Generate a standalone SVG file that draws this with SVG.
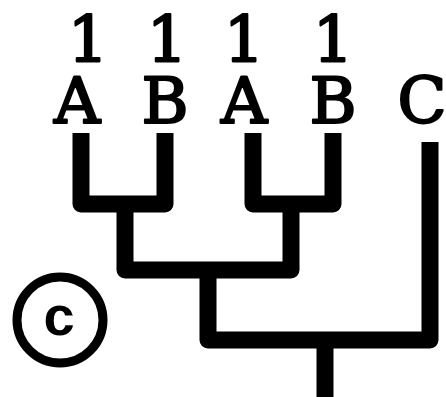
<svg xmlns="http://www.w3.org/2000/svg" width="446" height="397" viewBox="0 0 446 397">
  <style>
    .lbl { font-family: "DejaVu Serif", "Liberation Serif", serif; font-size: 64px; fill: #000; stroke: #000; stroke-width: 2.2; stroke-linejoin: round; text-anchor: middle; }
    .branch { fill: none; stroke: #000; stroke-width: 17; stroke-linejoin: round; stroke-linecap: butt; }
    .badge { fill: none; stroke: #000; stroke-width: 9; }
    .badge-text { font-family: "Liberation Sans", Arial, sans-serif; font-weight: bold; font-size: 56px; fill: #000; text-anchor: middle; }
  </style>
  <rect width="446" height="397" fill="#fff"/>

  <!-- tree branches -->
  <g id="connectors">
    <path class="branch" d="M81 133 V204 H165 V133"/>
    <path class="branch" d="M253 133 V204 H333 V133"/>
    <path class="branch" d="M125 204 V270 H291 V204"/>
    <path class="branch" d="M208 270 V340 H430 V142"/>
    <path class="branch" d="M325 340 V397"/>
  </g>

  <!-- leaves -->
  <g id="leaf-a1">
    <text class="lbl" x="88" y="62">1</text>
    <text class="lbl" x="77" y="123">A</text>
  </g>
  <g id="leaf-b1">
    <text class="lbl" x="167" y="62">1</text>
    <text class="lbl" x="165" y="123">B</text>
  </g>
  <g id="leaf-a2">
    <text class="lbl" x="244" y="62">1</text>
    <text class="lbl" x="244" y="123">A</text>
  </g>
  <g id="leaf-b2">
    <text class="lbl" x="333" y="62">1</text>
    <text class="lbl" x="333" y="123">B</text>
  </g>
  <g id="leaf-c">
    <text class="lbl" x="422" y="123">C</text>
  </g>

  <!-- circled label -->
  <g id="badge-c">
    <circle class="badge" cx="60" cy="320" r="43"/>
    <text class="badge-text" x="59" y="335">c</text>
  </g>
</svg>
